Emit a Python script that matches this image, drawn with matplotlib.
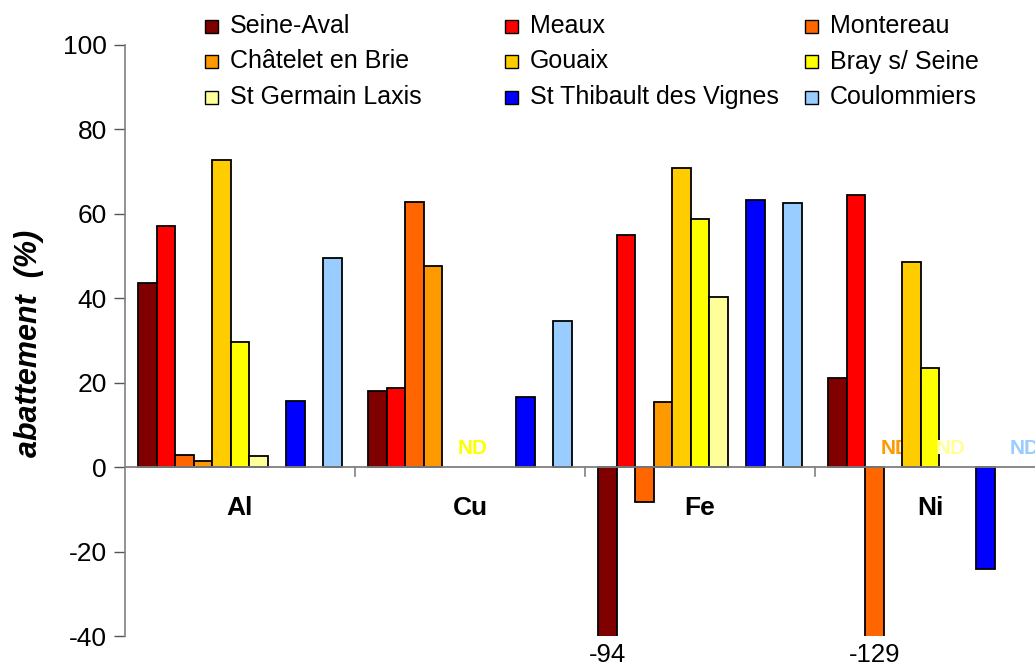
import numpy as np
import matplotlib
matplotlib.use('Agg')
import matplotlib.pyplot as plt
from matplotlib.patches import Rectangle

plt.rcParams['font.family'] = ['Liberation Sans', 'DejaVu Sans']
plt.rcParams['axes.unicode_minus'] = False

elements = ['Al', 'Cu', 'Fe', 'Ni']
stations = ['Seine-Aval', 'Meaux', 'Montereau', 'Châtelet en Brie', 'Gouaix',
            'Bray s/ Seine', 'St Germain Laxis', 'St Thibault des Vignes', 'Coulommiers']
colors = ['#800000', '#ff0000', '#ff6600', '#ff9900', '#ffcc00',
          '#ffff00', '#ffff99', '#0000ff', '#99ccff']
# slot of each station inside a group (11 slots, two are unused)
slots = [0, 1, 2, 3, 4, 5, 6, 8, 10]

# abattement (%) per station, one value per element (Al, Cu, Fe, Ni); None = ND
seine_aval = [43.7, 18.0, -94, 21.1]
meaux = [57.2, 18.8, 54.9, 64.4]
montereau = [2.9, 62.7, -8.3, -129]
chatelet = [1.4, 47.7, 15.4, None]
gouaix = [72.7, np.nan, 70.8, 48.7]
bray = [29.7, None, 58.7, 23.5]
st_germain = [2.6, np.nan, 40.4, None]
st_thibault = [15.7, 16.6, 63.4, -24.2]
coulommiers = [49.6, 34.7, 62.5, None]
values = [seine_aval, meaux, montereau, chatelet, gouaix, bray,
          st_germain, st_thibault, coulommiers]

ymin, ymax = -40, 100

fig = plt.figure(figsize=(10.35, 6.66), dpi=100)
ax = fig.add_axes([125 / 1035, 30 / 666, 920 / 1035, 591 / 666])

nslots = 11
w = 0.0804
pad = (1 - nslots * w) / 2
x0 = np.arange(len(elements))

for vals, col, s in zip(values, colors, slots):
    xs = x0 + pad + (s + 0.5) * w
    for x, v in zip(xs, vals):
        if v is None:
            ax.text(x + 0.01, 4.4, 'ND', color=col, fontsize=15, fontweight='bold',
                    ha='center', va='center')
            continue
        if np.isnan(v):
            continue
        ax.bar(x, v, width=w, color=col, edgecolor='black', linewidth=1.3, zorder=3)
        if v < ymin:
            ax.text(x, ymin - 4.5, '%d' % v, ha='center', va='center',
                    fontsize=18.5, clip_on=False)

ax.set_xlim(0, len(elements))
ax.set_ylim(ymin, ymax)
ax.set_yticks(np.arange(ymin, ymax + 1, 20))
ax.tick_params(axis='y', labelsize=19, length=8, width=1, color='#555555', pad=5)

# category axis at zero
ax.set_xticks([])
ax.axhline(0, color='#808080', linewidth=1.3, zorder=4)
for b in x0[1:]:
    ax.plot([b, b], [0, -2.2], color='#808080', linewidth=1.2, zorder=4)
for i, el in enumerate(elements):
    ax.text(i + 0.5, -9.6, el, ha='center', va='center', fontsize=19, fontweight='bold')

for side in ['top', 'right', 'bottom']:
    ax.spines[side].set_visible(False)
ax.spines['left'].set_color('#808080')
ax.spines['left'].set_linewidth(1.2)

fig.text(29 / 1035, 1 - 343 / 666, 'abattement  (%)', rotation=90, ha='center',
         va='center', fontsize=22, fontweight='bold', fontstyle='italic')

# legend, three rows of three
for k, (name, col) in enumerate(zip(stations, colors)):
    row, c = divmod(k, 3)
    px = 205 + 300 * c
    py = 26 + 35.5 * row
    fig.patches.append(Rectangle((px / 1035, 1 - (py + 6.5) / 666), 13 / 1035, 13 / 666,
                                 transform=fig.transFigure, facecolor=col,
                                 edgecolor='black', linewidth=1))
    fig.text((px + 25) / 1035, 1 - py / 666, name, ha='left', va='center', fontsize=18)

fig.savefig('out.png', dpi=100)
